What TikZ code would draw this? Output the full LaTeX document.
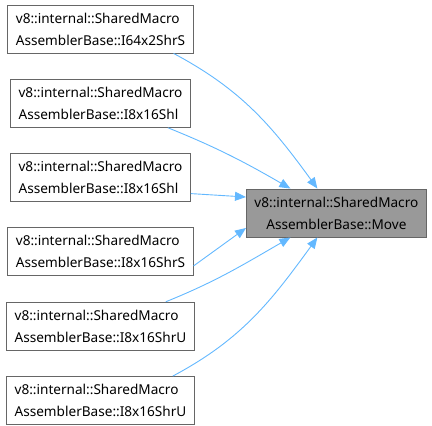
\documentclass[tikz,border=0pt]{standalone}
\usepackage{fontspec}
\setmainfont{Noto Sans}
\usepackage{tikz}
\usetikzlibrary{positioning,arrows.meta,calc}
\definecolor{edgeblue}{HTML}{63B8FF}
\definecolor{boxline}{HTML}{666666}
\definecolor{focusfill}{HTML}{999999}

\begin{document}
\begin{tikzpicture}[x=1pt, y=1pt, node distance=25.4pt,
    every node/.style={font=\fontsize{13.6}{22}\selectfont},
    caller/.style={draw=boxline, fill=white, line width=0.9pt, align=left,
                   minimum height=48pt, inner xsep=8pt},
    callee/.style={caller, fill=focusfill, align=center},
    link/.style={-{Triangle[length=11pt, width=9pt]}, edgeblue, line width=0.9pt}]
  \useasboundingbox (0,0) rectangle (432,-426);
  \node[caller] (s1) at (100.5,-29) {v8::internal::SharedMacro\\AssemblerBase::I64x2ShrS};
  \node[caller, below=of s1] (s2) {v8::internal::SharedMacro\\AssemblerBase::I8x16Shl};
  \node[caller, below=of s2] (s3) {v8::internal::SharedMacro\\AssemblerBase::I8x16Shl};
  \node[caller, below=of s3] (s4) {v8::internal::SharedMacro\\AssemblerBase::I8x16ShrS};
  \node[caller, below=of s4] (s5) {v8::internal::SharedMacro\\AssemblerBase::I8x16ShrU};
  \node[caller, below=of s5] (s6) {v8::internal::SharedMacro\\AssemblerBase::I8x16ShrU};
  \node[callee, anchor=west] (mv) at (246,-213) {v8::internal::SharedMacro\\AssemblerBase::Move};
  \draw[link] ([xshift=-20pt]s1.south east) to[out=-28, in=126] ([xshift=-19pt]mv.north);
  \draw[link] ([xshift=-23pt]s2.south east) to[out=-22, in=150] ([xshift=-46pt]mv.north);
  \draw[link] ([yshift=-16pt]s3.east) -- ([yshift=16pt]mv.west);
  \draw[link] ([yshift=-14pt]s4.east) -- ([yshift=-15pt]mv.west);
  \draw[link] ([xshift=-29pt]s5.north east) to[out=22, in=-150] ([xshift=-46pt]mv.south);
  \draw[link] ([xshift=-22pt]s6.north east) to[out=28, in=-126] ([xshift=-19pt]mv.south);
\end{tikzpicture}
\end{document}
